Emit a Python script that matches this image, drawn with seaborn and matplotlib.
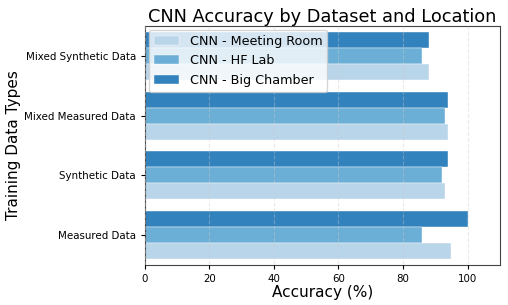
import pandas as pd
import matplotlib
matplotlib.use("Agg")
import matplotlib.pyplot as plt
import seaborn as sns

# Data
categorias = ['Measured Data', 'Synthetic Data', 'Mixed Measured Data', 'Mixed Synthetic Data']
locais = ['CNN - Meeting Room', 'CNN - HF Lab', 'CNN - Big Chamber']
acc_meeting_room = [95, 93, 94, 88]
acc_hf_lab = [86, 92, 93, 86]
acc_big_chamber = [100, 94, 94, 88]

cores = {'CNN - Meeting Room': '#b9d5ea',
         'CNN - HF Lab': '#6baed6',
         'CNN - Big Chamber': '#3182bd'}

linhas = []
for local, valores in zip(locais, [acc_meeting_room, acc_hf_lab, acc_big_chamber]):
    for cat, v in zip(categorias, valores):
        linhas.append({'Tipo': cat, 'Local': local, 'Acuracia': v})
df = pd.DataFrame(linhas)

sns.set_style("white")
plt.rcParams['text.color'] = 'black'
plt.rcParams['axes.labelcolor'] = 'black'
plt.rcParams['xtick.color'] = 'black'
plt.rcParams['ytick.color'] = 'black'

fig, ax = plt.subplots(figsize=(5.08, 3.05), dpi=100)

sns.barplot(data=df, y='Tipo', x='Acuracia', hue='Local',
            order=categorias[::-1], hue_order=locais[::-1],
            palette=cores, orient='h', ax=ax, saturation=1,
            edgecolor='white', linewidth=0.3, legend=True)

ax.set_xlim(0, 110)
ax.set_xticks([0, 20, 40, 60, 80, 100])
ax.grid(axis='x', linestyle='--', alpha=0.4)
ax.set_axisbelow(False)
ax.tick_params(axis='both', labelsize=7.4, length=3, left=True, bottom=True)
for s in ax.spines.values():
    s.set_color('#444444')

ax.set_title('CNN Accuracy by Dataset and Location', fontsize=12.8, pad=3)
ax.set_xlabel('Accuracy (%)', fontsize=11, labelpad=1)
ax.set_ylabel('Training Data Types', fontsize=11, labelpad=2)

handles, labels = ax.get_legend_handles_labels()
ax.legend(handles[::-1], labels[::-1], loc='upper left', fontsize=9.2,
          framealpha=0.8, borderaxespad=0.3, handlelength=2.0)

plt.subplots_adjust(left=0.285, right=0.984, top=0.915, bottom=0.131)
plt.savefig('out.png', dpi=100)
plt.close()
